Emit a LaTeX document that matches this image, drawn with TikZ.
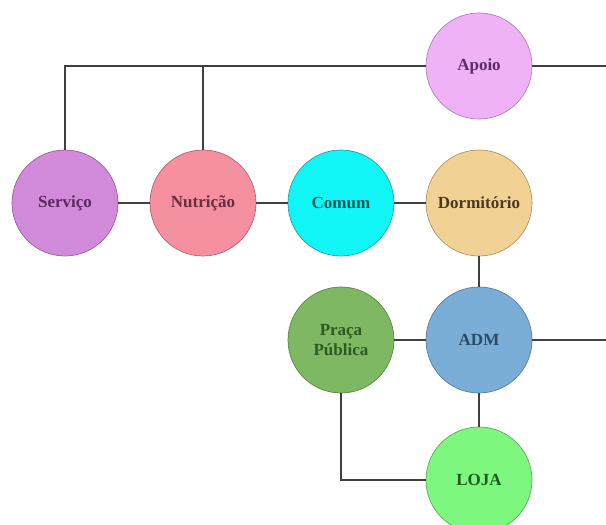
\documentclass[tikz,border=0pt]{standalone}
\usepackage{fontspec}
\setmainfont{Liberation Serif}
\begin{document}
\begin{tikzpicture}[x=1pt,y=-1pt,
  room/.style={circle, minimum size=106pt, inner sep=0pt, line width=0.7pt,
    font=\fontsize{17}{20.5}\selectfont\bfseries, align=center},
  link/.style={line width=1.4pt, draw=black!75}]
\useasboundingbox (0,0) rectangle (606,525);
\begin{scope}
\clip (0,0) rectangle (606,525);
\node[room, fill={rgb,255:red,240;green,178;blue,246}, draw={rgb,255:red,176;green,128;blue,184}, text={rgb,255:red,92;green,44;blue,106}] (apoio) at (479,66) {Apoio};
\node[room, fill={rgb,255:red,210;green,138;blue,218}, draw={rgb,255:red,150;green,96;blue,156}, text={rgb,255:red,90;green,42;blue,96}] (serv) at (65,203) {Serviço};
\node[room, fill={rgb,255:red,244;green,144;blue,160}, draw={rgb,255:red,180;green,100;blue,112}, text={rgb,255:red,104;green,46;blue,62}] (nut) at (203,203) {Nutrição};
\node[room, fill={rgb,255:red,16;green,246;blue,246}, draw={rgb,255:red,40;green,160;blue,160}, text={rgb,255:red,30;green,88;blue,90}] (comum) at (341,203) {Comum};
\node[room, fill={rgb,255:red,242;green,209;blue,148}, draw={rgb,255:red,176;green,150;blue,100}, text={rgb,255:red,74;green,56;blue,32}] (dorm) at (479,203) {Dormitório};
\node[room, fill={rgb,255:red,126;green,184;blue,98}, draw={rgb,255:red,90;green,136;blue,70}, text={rgb,255:red,46;green,90;blue,34}] (praca) at (341,340) {Praça\\Pública};
\node[room, fill={rgb,255:red,122;green,174;blue,214}, draw={rgb,255:red,86;green,126;blue,160}, text={rgb,255:red,44;green,74;blue,102}] (adm) at (479,340) {ADM};
\node[room, fill={rgb,255:red,126;green,247;blue,126}, draw={rgb,255:red,90;green,170;blue,90}, text={rgb,255:red,30;green,90;blue,30}] (loja) at (479,480) {LOJA};
\coordinate (apoioend) at (606,66);
\coordinate (admend) at (606,340);
\draw[link] (serv.north) |- (apoio.west);
\draw[link] (nut.north) -- (nut.north |- apoio.west);
\draw[link] (apoio.east) -- (apoioend);
\draw[link] (serv.east) -- (nut.west);
\draw[link] (nut.east) -- (comum.west);
\draw[link] (comum.east) -- (dorm.west);
\draw[link] (dorm.south) -- (adm.north);
\draw[link] (praca.east) -- (adm.west);
\draw[link] (adm.east) -- (admend);
\draw[link] (adm.south) -- (loja.north);
\draw[link] (praca.south) |- (loja.west);
\end{scope}
\end{tikzpicture}
\end{document}
